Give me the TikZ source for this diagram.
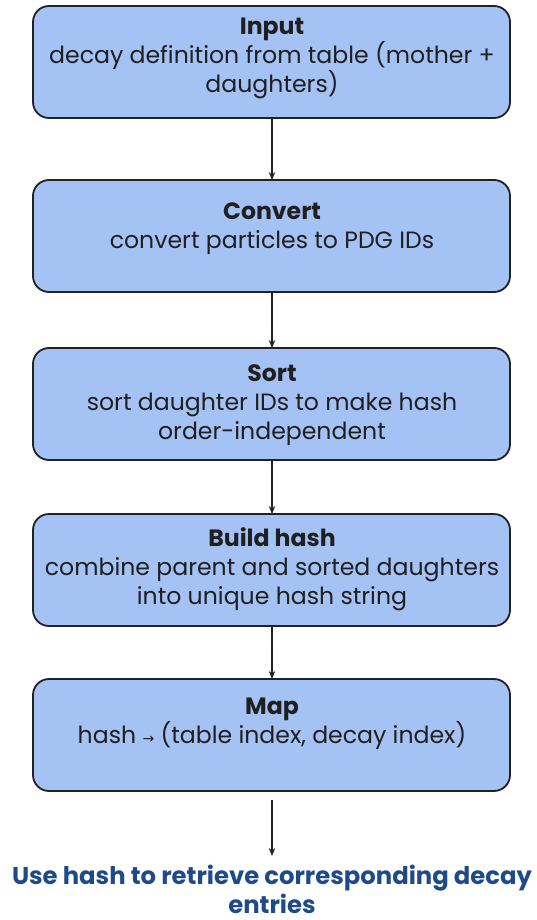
\documentclass[tikz,border=0pt]{standalone}
\usepackage{fontspec}
\setmainfont{Poppins}
\newfontfamily\symfont{DejaVu Sans}
\usetikzlibrary{arrows.meta}
\definecolor{boxfill}{HTML}{A4C2F4}
\definecolor{boxline}{HTML}{222222}
\definecolor{resultblue}{HTML}{1F4A8A}
\tikzset{
  stepbox/.style={draw=boxline, line width=1.8pt, fill=boxfill, rounded corners=16pt},
  steptext/.style={anchor=base, align=center, font=\fontsize{23.6}{29}\selectfont, text=black!88, inner sep=0pt},
  flow/.style={draw=boxline, line width=1.5pt, -{Stealth[length=8pt,width=6.5pt]}},
  result/.style={anchor=base, align=center, font=\fontsize{24.3}{29}\selectfont\bfseries, text=resultblue, inner sep=0pt}
}
\begin{document}
\begin{tikzpicture}[x=1pt,y=-1pt]
\useasboundingbox (0,0) rectangle (537,920);
% step boxes
\path[stepbox] (33,6) rectangle (510,118);
\path[stepbox] (33,180) rectangle (510,292);
\path[stepbox] (33,348) rectangle (510,460);
\path[stepbox] (33,514) rectangle (510,626);
\path[stepbox] (33,679) rectangle (510,791);
% anchors on the box edges
\coordinate (b1s) at (272,118);
\coordinate (b2n) at (272,180);
\coordinate (b2s) at (272,292);
\coordinate (b3n) at (272,348);
\coordinate (b3s) at (272,460);
\coordinate (b4n) at (272,514);
\coordinate (b4s) at (272,626);
\coordinate (b5n) at (272,679);
\coordinate (b5s) at (272,800);
\coordinate (resn) at (272,856);
% step texts, placed on the baseline of their last line
\node[steptext] (t1) at (272,93) {\textbf{Input}\\decay definition from table (mother +\\daughters)};
\node[steptext] (t2) at (272,248) {\textbf{Convert}\\convert particles to PDG IDs};
\node[steptext] (t3) at (272,439) {\textbf{Sort}\\sort daughter IDs to make hash\\order-independent};
\node[steptext] (t4) at (272,604) {\textbf{Build hash}\\combine parent and sorted daughters\\into unique hash string};
\node[steptext] (t5) at (272,743) {\textbf{Map}\\hash {\symfont\fontsize{14}{14}\selectfont→} (table index, decay index)};
\node[result] (res) at (272,913) {Use hash to retrieve corresponding decay\\entries};
% flow arrows
\draw[flow] (b1s) -- (b2n);
\draw[flow] (b2s) -- (b3n);
\draw[flow] (b3s) -- (b4n);
\draw[flow] (b4s) -- (b5n);
\draw[flow] (b5s) -- (resn);
\end{tikzpicture}
\end{document}
